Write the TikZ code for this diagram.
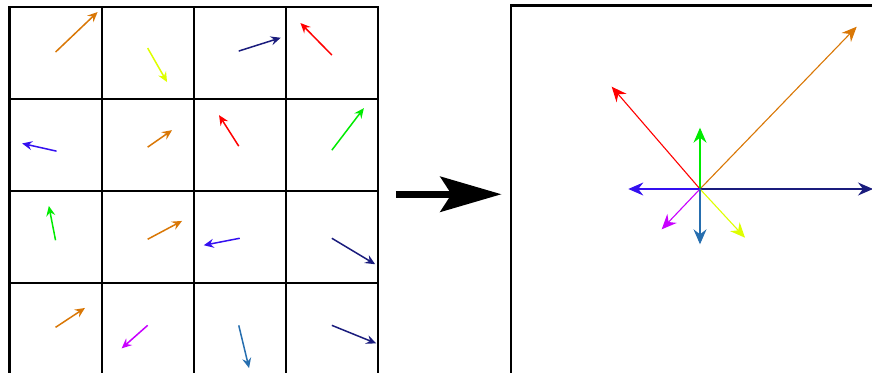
\documentclass[tikz,border=0pt]{standalone}
\usepackage{tikz}
\usetikzlibrary{arrows.meta, positioning}
\definecolor{vorange}{RGB}{217,119,6}
\definecolor{vyellow}{RGB}{222,255,0}
\definecolor{vblue}{RGB}{52,16,240}
\definecolor{vnavy}{RGB}{26,28,125}
\definecolor{vred}{RGB}{255,0,0}
\definecolor{vgreen}{RGB}{0,235,0}
\definecolor{vpurple}{RGB}{200,0,255}
\definecolor{vsteel}{RGB}{38,110,175}
\tikzset{
  cell/.style={rectangle,draw,line width=2pt,minimum size=92.1pt,inner sep=0pt,outer sep=0pt},
  frame/.style={rectangle,draw,line width=2.8pt,inner sep=0pt,outer sep=0pt},
  vec/.style={-{Stealth[length=10pt,width=9pt,inset=3.5pt]},line width=1.5pt},
  sumvec/.style={-{Stealth[length=15pt,width=13pt,inset=5pt]},line width=1.1pt},
  bigarrow/.style={-{Stealth[length=61pt,width=35pt,inset=11pt]},line width=7pt}
}
\begin{document}
\begin{tikzpicture}[x=1pt,y=-1pt]
\useasboundingbox (0,0) rectangle (872,372);
% vector field, one arrow per cell
\foreach \r in {0,...,3}
  \foreach \c in {0,...,3}
    \node[cell] (c\r\c) at ({55.55+92.1*\c},{53.05+92.1*\r}) {};
\node[frame,minimum size=368.4pt] (grid) at (193.75,191.25) {};
\foreach \r/\c/\ox/\oy/\dx/\dy/\col in {
  0/0/0/-1/42/-40/vorange, 0/1/0/-5/19.4/34/vyellow,
  0/2/-1/-2/42/-13.3/vnavy, 0/3/0/2/-31.4/-32/vred,
  1/0/1/6/-34.4/-7.7/vblue, 1/1/0/2/24.4/-17/vorange,
  1/2/-1/1/-19.7/-31/vred, 1/3/0/5/32/-42/vgreen,
  2/0/0/3/-6.7/-34.3/vgreen, 2/1/0/2/34.4/-18.3/vorange,
  2/2/0/1/-36/7/vblue, 2/3/0/1/43.3/26/vnavy,
  3/0/0/-2/29.4/-19.4/vorange, 3/1/0/-4/-26/23/vpurple,
  3/2/-1/-4/10.3/42.7/vsteel, 3/3/0/-4/44.3/18/vnavy}
  \draw[vec,\col] ([shift={(\ox,\oy)}]c\r\c.center) -- ++(\dx,\dy);
% sum of the vectors
\node[frame,minimum size=370pt] (sum) at (696,190.5) {};
\coordinate (o) at (700,189);
\draw[bigarrow] ([xshift=18pt,yshift=-3pt]grid.east) -- ([xshift=-9.5pt,yshift=-3pt]grid.east -| sum.west);
\draw[sumvec,vorange] (o) -- ++(156.7,-162.3);
\draw[sumvec,vred] (o) -- ++(-88.3,-102.3);
\draw[sumvec,vgreen] (o) -- ++(0,-61.3);
\draw[sumvec,vnavy] (o) -- ++(173,0);
\draw[sumvec,vblue] (o) -- ++(-71.7,0);
\draw[sumvec,vpurple] (o) -- ++(-38.3,40.3);
\draw[sumvec,vyellow] (o) -- ++(45,48.7);
\draw[sumvec,vsteel] (o) -- ++(0,55.3);
\end{tikzpicture}
\end{document}
